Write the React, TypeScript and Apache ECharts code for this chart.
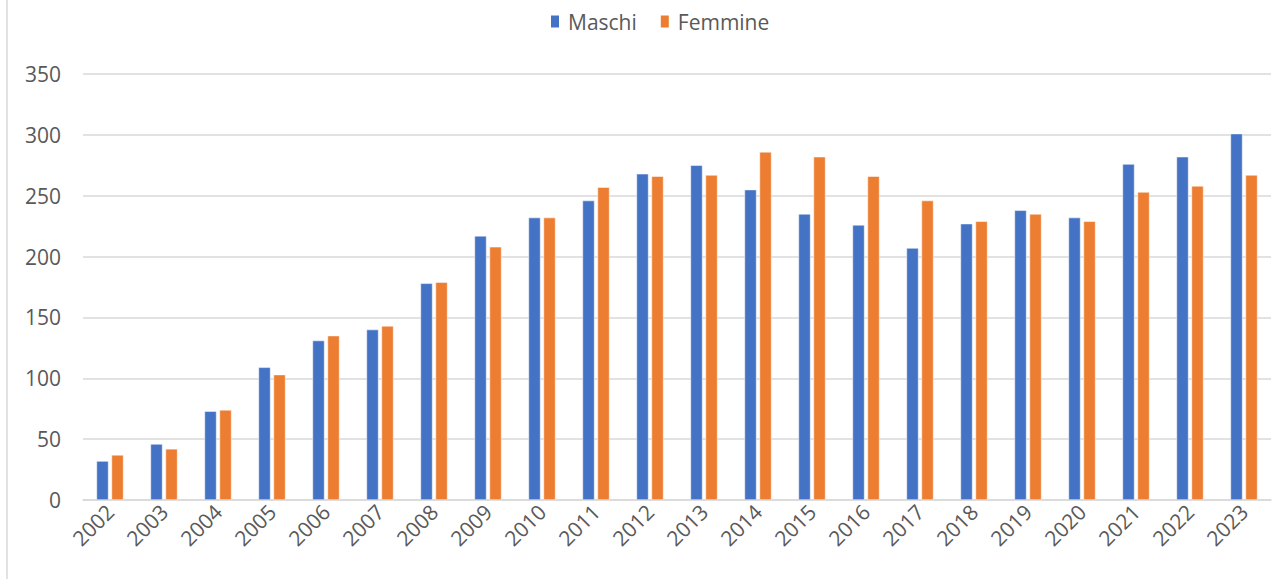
import React, { useEffect, useRef } from "react";
import * as echarts from "echarts";

const years = ["2002","2003","2004","2005","2006","2007","2008","2009","2010","2011","2012","2013","2014","2015","2016","2017","2018","2019","2020","2021","2022","2023"];
const maschi = [32, 46, 73, 109, 131, 140, 178, 217, 232, 246, 268, 275, 255, 235, 226, 207, 227, 238, 232, 276, 282, 301];
const femmine = [37, 42, 74, 103, 135, 143, 179, 208, 232, 257, 266, 267, 286, 282, 266, 246, 229, 235, 229, 253, 258, 267];
const seriesNames = ["Maschi", "Femmine"];
const colors = ["#4472C4", "#ED7D31"];

export default function App() {
  const ref = useRef<HTMLDivElement>(null);
  useEffect(() => {
    if (!ref.current) return;
    const chart = echarts.init(ref.current, undefined, { renderer: "svg" });
    const font = "'Open Sans', 'Noto Sans', sans-serif";
    chart.setOption({
      animation: false,
      color: colors,
      textStyle: { fontFamily: font },
      legend: {
        top: 6,
        left: 544,
        itemWidth: 10,
        itemHeight: 14,
        itemGap: 22,
        icon: "rect",
        textStyle: { fontSize: 21, color: "#595959", fontFamily: font, padding: [0, 0, 0, 3] },
        data: seriesNames,
      },
      grid: { left: 83, right: 12, top: 74, bottom: 79, containLabel: false },
      xAxis: {
        type: "category",
        data: years,
        axisTick: { show: false },
        axisLine: { show: true, lineStyle: { color: "#d9d9d9", width: 1.5 } },
        axisLabel: { rotate: 45, fontSize: 21, color: "#595959", margin: 8, fontFamily: font },
      },
      yAxis: {
        type: "value",
        min: 0,
        max: 350,
        interval: 50,
        axisLine: { show: false },
        axisTick: { show: false },
        splitLine: { lineStyle: { color: "#d9d9d9", width: 1.5 } },
        axisLabel: { fontSize: 21, color: "#595959", margin: 22, fontFamily: font },
      },
      graphic: [
        { type: "line", shape: { x1: 7, y1: 0, x2: 7, y2: 579 }, style: { stroke: "#d9d9d9", lineWidth: 1.5 } },
      ],
      series: [
        { name: seriesNames[0], type: "bar", data: maschi, barWidth: 12, barGap: "25%", itemStyle: { color: colors[0], borderColor: "#ffffff", borderWidth: 0.5 } },
        { name: seriesNames[1], type: "bar", data: femmine, barWidth: 12, barGap: "25%", itemStyle: { color: colors[1], borderColor: "#ffffff", borderWidth: 0.5 } },
      ],
    });
    return () => chart.dispose();
  }, []);
  return <div ref={ref} style={{ position: "fixed", left: 0, top: 0, width: 1283, height: 579, background: "#fff" }} />;
}
